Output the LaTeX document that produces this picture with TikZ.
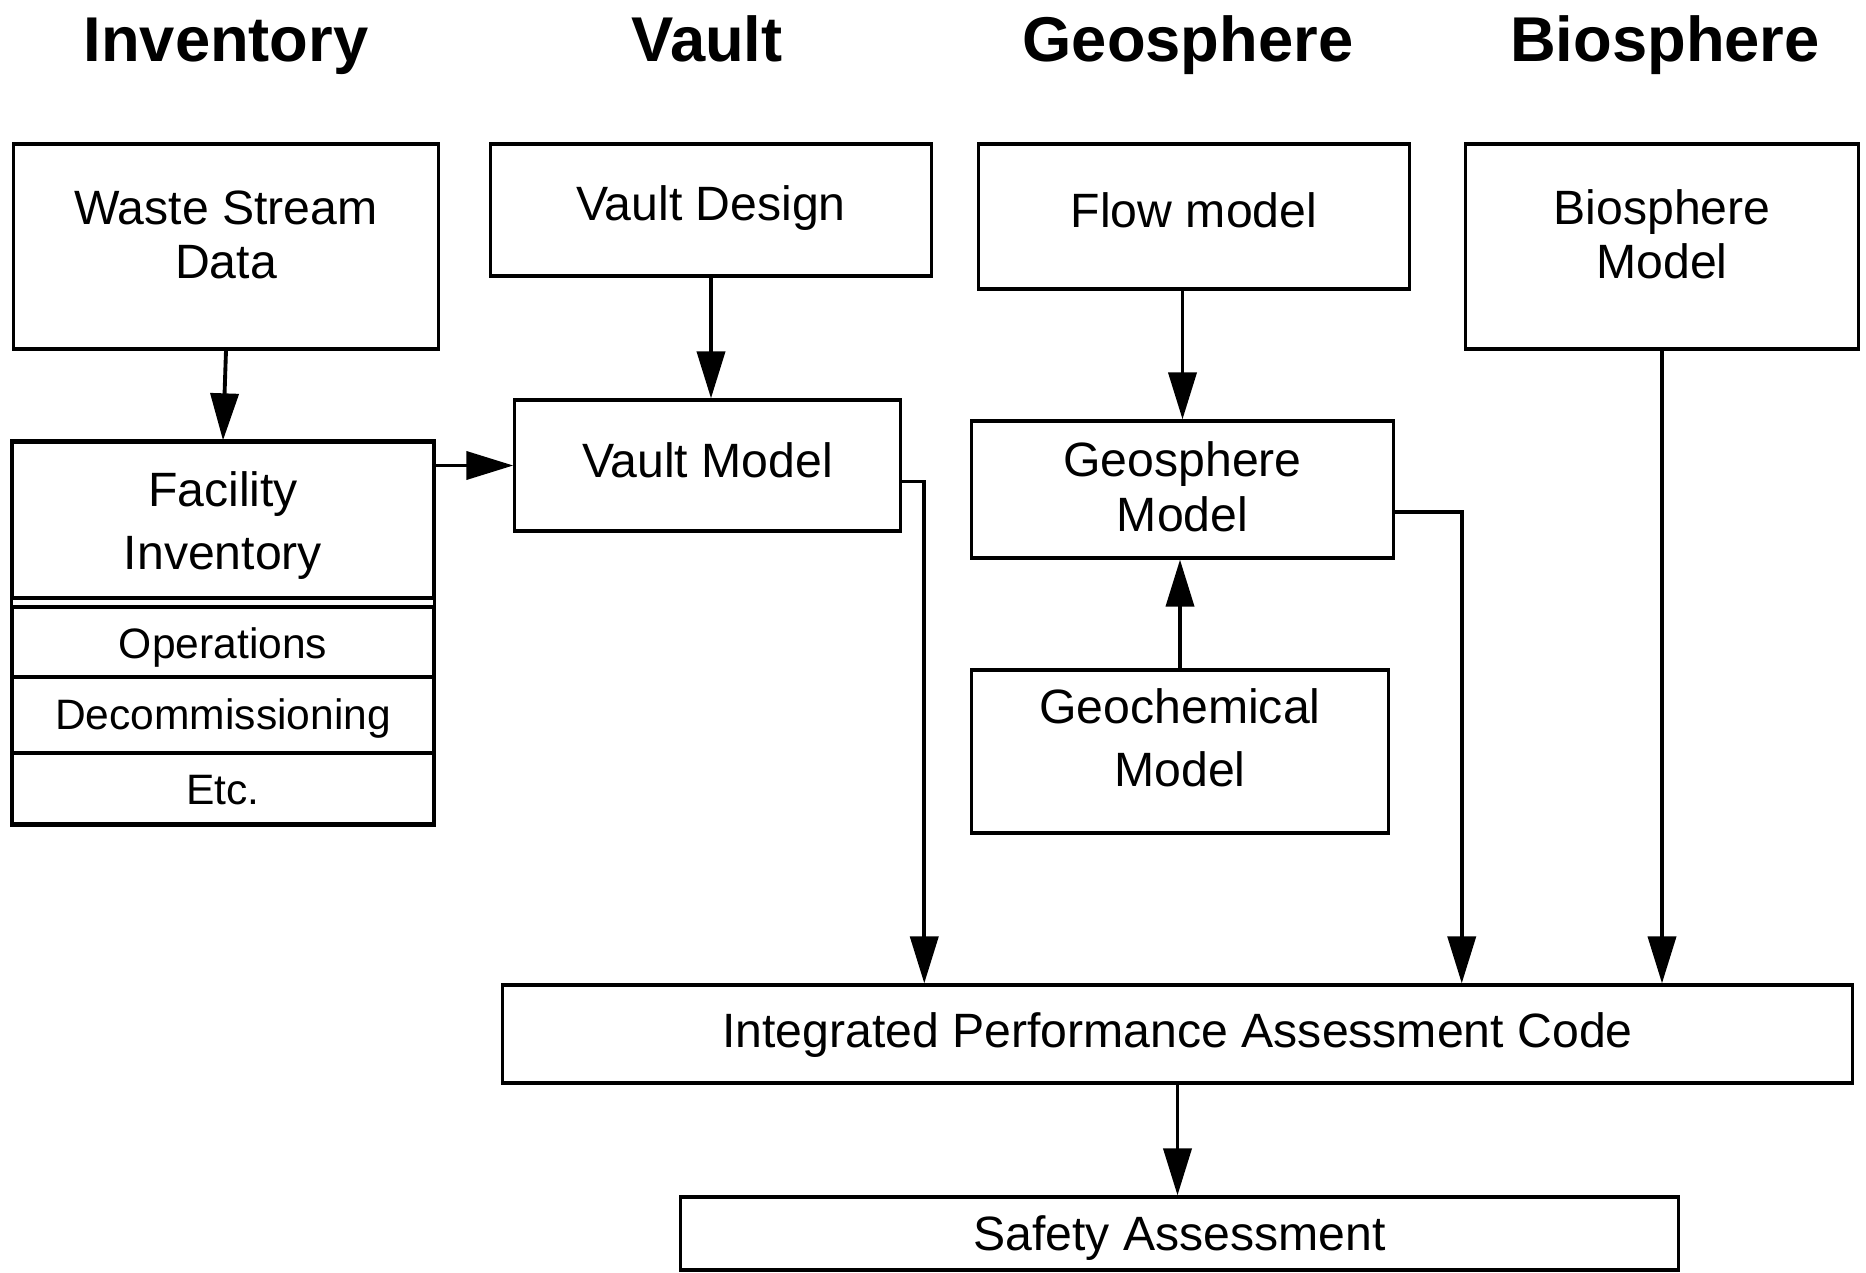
\documentclass[tikz,border=0pt]{standalone}
\usepackage{fontspec}
\setmainfont{Liberation Sans}
\usetikzlibrary{arrows.meta}

\newcommand{\boxtext}[2]{\raisebox{#1}[\height][\depth]{\begin{tabular}{@{}c@{}}#2\end{tabular}}}

\begin{document}
\begin{tikzpicture}[
    x=0.01cm, y=-0.01cm,
    box/.style={
        rectangle,
        draw,
        line width=0.9pt,
        inner sep=0pt,
        font=\fontsize{13.7}{15.6}\selectfont
    },
    small/.style={
        font=\fontsize{12.1}{14}\selectfont
    },
    head/.style={
        anchor=base,
        font=\fontsize{18}{22}\selectfont\bfseries
    },
    arrow/.style={-{Triangle[length=4.7mm, width=2.8mm]}, line width=1.1pt}
]

\useasboundingbox (0,0) rectangle (1866,1273);

\node[head] (hinv) at (226,62) {Inventory};
\node[head] (hvault) at (707,62) {Vault};
\node[head] (hgeo) at (1188,62) {Geosphere};
\node[head] (hbio) at (1665,62) {Biosphere};

\node[box, minimum width=4.24cm, minimum height=2.05cm] (waste) at (226,246.5) {
    \boxtext{1.7pt}{Waste Stream\\ Data}
};

\node[box, minimum width=4.20cm, minimum height=1.56cm] (fac) at (223,520) {
    \boxtext{-2pt}{Facility\\[2.3pt] Inventory}
};

\node[box, small, minimum width=4.20cm, minimum height=0.70cm] (ops) at (223,642) {
    \boxtext{-2pt}{Operations}
};

\node[box, small, minimum width=4.20cm, minimum height=0.76cm] (dec) at (223,715) {
    \boxtext{-1.3pt}{Decommissioning}
};

\node[box, small, minimum width=4.20cm, minimum height=0.71cm] (etc) at (223,788.5) {
    \boxtext{-1.7pt}{Etc.}
};

\draw[line width=0.9pt] (fac.north west) rectangle (etc.south east);

\node[box, minimum width=4.40cm, minimum height=1.32cm] (vdesign) at (711,210) {
    \boxtext{0pt}{Vault Design}
};

\node[box, minimum width=3.85cm, minimum height=1.31cm] (vmodel) at (707.5,465.5) {
    \boxtext{-0.3pt}{Vault Model}
};

\node[box, minimum width=4.30cm, minimum height=1.45cm] (flow) at (1194,216.5) {
    \boxtext{0pt}{Flow model}
};

\node[box, minimum width=4.21cm, minimum height=1.37cm] (geo) at (1182.5,489.5) {
    \boxtext{-1pt}{Geosphere\\ Model}
};

\node[box, minimum width=4.16cm, minimum height=1.63cm] (geochem) at (1180,751.5) {
    \boxtext{2pt}{Geochemical\\[2.3pt] Model}
};

\node[box, minimum width=3.92cm, minimum height=2.05cm] (bio) at (1662,246.5) {
    \boxtext{1.7pt}{Biosphere\\ Model}
};

\node[box, minimum width=13.49cm, minimum height=0.98cm] (ipac) at (1177.5,1034) {
    \boxtext{-0.7pt}{Integrated Performance Assessment Code}
};

\node[box, minimum width=9.97cm, minimum height=0.73cm] (safety) at (1179.5,1233.5) {
    \boxtext{-1.7pt}{Safety Assessment}
};

\draw[arrow] (waste.south) -- (fac.north);
\draw[arrow] (fac.east |- vmodel.west) -- (vmodel.west);
\draw[arrow] (vdesign.south) -- (vdesign.south |- vmodel.north);
\draw[arrow] (geo.north |- flow.south) -- (geo.north);
\draw[arrow] (geochem.north) -- (geochem.north |- geo.south);
\draw[arrow] ([yshift=-1.6mm]vmodel.east) -| ([xshift=42.3mm]ipac.north west);
\draw[arrow] ([yshift=-2.25mm]geo.east) -| ([xshift=-39.2mm]ipac.north east);
\draw[arrow] (bio.south) -- (bio.south |- ipac.north);
\draw[arrow] (ipac.south) -- (ipac.south |- safety.north);

\end{tikzpicture}
\end{document}
